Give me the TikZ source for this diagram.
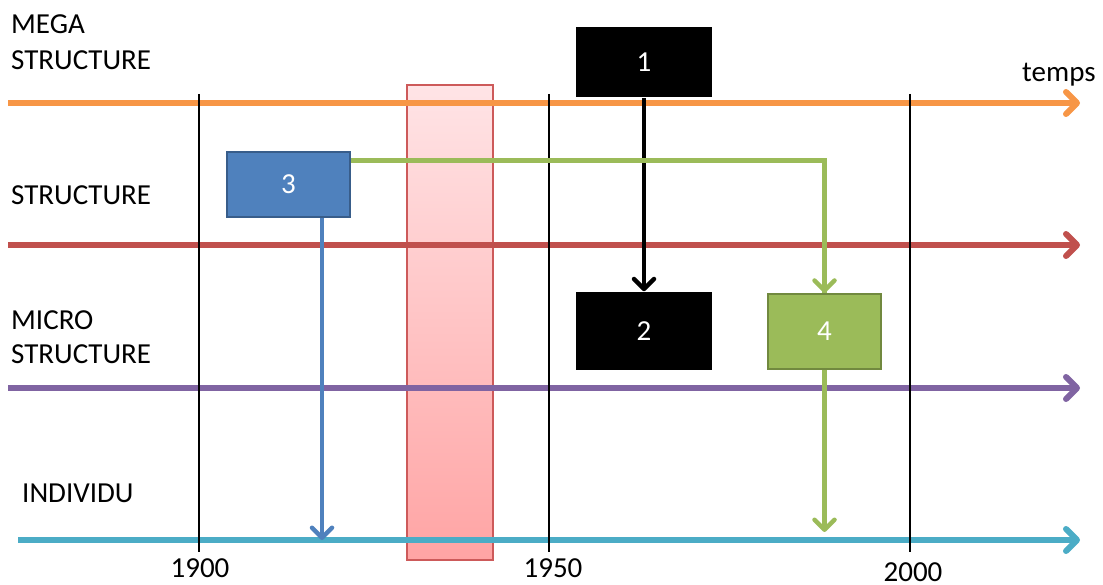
\documentclass[tikz,border=0pt]{standalone}
\usepackage{fontspec}
\setmainfont{Carlito}
\usetikzlibrary{arrows.meta}

\definecolor{axeorange}{HTML}{F79646}
\definecolor{axered}{HTML}{C0504D}
\definecolor{axepurple}{HTML}{8064A2}
\definecolor{axecyan}{HTML}{4BACC6}
\definecolor{boxblue}{HTML}{4F81BD}
\definecolor{boxblueline}{HTML}{385D8A}
\definecolor{boxgreen}{HTML}{9BBB59}
\definecolor{boxgreenline}{HTML}{71893F}

\begin{document}
\begin{tikzpicture}[x=1pt,y=-1pt,
    every node/.style={font=\fontsize{29}{34}\selectfont},
    axe/.style={line width=6pt,-{Straight Barb[length=11pt,width=22pt,line join=round,line cap=round]}},
    fleche/.style={line width=4.5pt,-{Straight Barb[length=10pt,width=20pt,line join=round,line cap=round]}},
    etiquette/.style={anchor=base west,inner sep=0pt},
    annee/.style={anchor=base,inner sep=0pt},
    boite/.style={rectangle,text=white,inner sep=0pt,line width=2.5pt}]
  \useasboundingbox (0,0) rectangle (1103,585);

  % periode
  \fill[top color={rgb,255:red,255;green,228;blue,230},bottom color={rgb,255:red,255;green,164;blue,164},draw={rgb,255:red,205;green,90;blue,90},line width=1.5pt]
    (407,85) rectangle (493,560);

  % axes
  \coordinate (mega) at (8,103);
  \coordinate (megafin) at (1080,103);
  \coordinate (struct) at (8,245);
  \coordinate (structfin) at (1080,245);
  \coordinate (micro) at (8,388);
  \coordinate (microfin) at (1080,388);
  \coordinate (ind) at (18,540);
  \coordinate (indfin) at (1080,540);
  \draw[axe,axeorange] (mega) -- (megafin);
  \draw[axe,axered] (struct) -- (structfin);
  \draw[axe,axepurple] (micro) -- (microfin);
  \draw[axe,axecyan] (ind) -- (indfin);

  % annees
  \draw[line width=1.3pt] (199,94) -- (199,552);
  \draw[line width=1.3pt] (549,94) -- (549,552);
  \draw[line width=1.3pt] (910,94) -- (910,552);
  \node[annee] (a1900) at (200,577) {1900};
  \node[annee] (a1950) at (553,577) {1950};
  \node[annee] (a2000) at (913,581) {2000};

  \node[etiquette] (lmega) at (11,34) {MEGA};
  \node[etiquette] (lmegas) at (11,70) {STRUCTURE};
  \node[etiquette] (lstruct) at (11,205) {STRUCTURE};
  \node[etiquette] (lmicro) at (11,330) {MICRO};
  \node[etiquette] (lmicros) at (11,363) {STRUCTURE};
  \node[etiquette] (lind) at (22,502) {INDIVIDU};
  \node[etiquette] (ltemps) at (1022,82) {temps};

  % boites
  \node[boite,fill=black,minimum width=136pt,minimum height=70pt] (b1) at (644,62) {1};
  \node[boite,fill=black,minimum width=136pt,minimum height=77pt] (b2) at (644,331) {2};
  \node[boite,fill=boxblue,draw=boxblueline,minimum width=123pt,minimum height=65pt] (b3) at (288.5,184.5) {3};
  \node[boite,fill=boxgreen,draw=boxgreenline,minimum width=113pt,minimum height=75pt] (b4) at (824.5,331.5) {4};

  \draw[fleche,black] (b1) -- (b2);
  \draw[fleche,boxgreen,-] ([yshift=-10pt]b3.north east) -| (b4.north);
  \draw[fleche,boxgreen] ([yshift=-10pt]b3.north east -| b4.north) -- (b4.north);
  \draw[fleche,boxblue] ([xshift=33.5pt]b3.south) -- ([xshift=33.5pt]b3.south |- ind);
  \draw[fleche,boxgreen,shorten >=8pt] (b4.south) -- (b4.south |- ind);
\end{tikzpicture}
\end{document}
